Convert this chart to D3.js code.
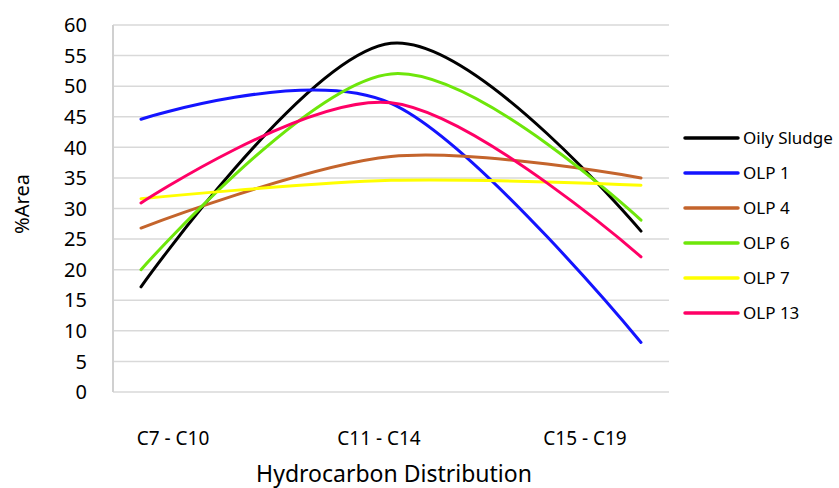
<!DOCTYPE html>
<html lang="en">
<head>
<meta charset="UTF-8">
<title>Hydrocarbon Distribution</title>
<script src="https://d3js.org/d3.v7.min.js"></script>
<style>
    body {
        margin: 0;
        background: #ffffff;
        font-family: "Noto Sans", "Open Sans", sans-serif;
    }
    .grid line { stroke: #d9d9d9; stroke-width: 1.5px; }
    .tick-label { font-size: 20px; fill: #000; }
    .cat-label { font-size: 19px; fill: #000; }
    .legend text { font-size: 17px; fill: #000; }
    .series { fill: none; stroke-width: 3px; stroke-linecap: round; }
</style>
</head>
<body>
<div id="chart"></div>
<script>
    const categories = ["C7 - C10", "C11 - C14", "C15 - C19"];
    const seriesNames = ["Oily Sludge", "OLP 1", "OLP 4", "OLP 6", "OLP 7", "OLP 13"];
    const seriesColors = ["#000000", "#1414ff", "#c4642c", "#6ee60a", "#ffff00", "#ff0066"];
    const oilySludge = [17.2, 57.0, 26.3];
    const olp1 = [44.6, 47.2, 8.1];
    const olp4 = [26.8, 38.5, 35.0];
    const olp6 = [20.0, 52.0, 28.1];
    const olp7 = [31.6, 34.6, 33.8];
    const olp13 = [30.9, 47.3, 22.1];
    const yTicks = [0, 5, 10, 15, 20, 25, 30, 35, 40, 45, 50, 55, 60];

    const allValues = [oilySludge, olp1, olp4, olp6, olp7, olp13];
    const series = seriesNames.map((name, i) => ({ name: name, color: seriesColors[i], values: allValues[i] }));

    const width = 839, height = 488;
    const plotLeft = 113, plotRight = 669, plotTop = 25, plotBottom = 392;

    const svg = d3.select("#chart").append("svg")
        .attr("width", width)
        .attr("height", height);

    const y = d3.scaleLinear().domain([0, 60]).range([plotBottom, plotTop]);
    // data points sit inside the plot, labels are drawn a bit further in
    const x = d3.scalePoint().domain(categories).range([141, 641]);
    const xLabel = d3.scalePoint().domain(categories).range([173, 585]);

    // horizontal gridlines
    svg.append("g")
        .attr("class", "grid")
        .selectAll("line")
        .data(yTicks)
        .enter().append("line")
        .attr("x1", plotLeft)
        .attr("x2", plotRight)
        .attr("y1", d => y(d))
        .attr("y2", d => y(d));

    // left axis line
    svg.append("line")
        .attr("x1", plotLeft).attr("x2", plotLeft)
        .attr("y1", plotTop).attr("y2", plotBottom)
        .attr("stroke", "#d0d0d0")
        .attr("stroke-width", 2);

    svg.append("g")
        .selectAll("text")
        .data(yTicks)
        .enter().append("text")
        .attr("class", "tick-label")
        .attr("x", 87)
        .attr("y", d => y(d))
        .attr("dy", "0.36em")
        .attr("text-anchor", "end")
        .text(d => d);

    svg.append("g")
        .selectAll("text")
        .data(categories)
        .enter().append("text")
        .attr("class", "cat-label")
        .attr("x", d => xLabel(d))
        .attr("y", 445)
        .attr("text-anchor", "middle")
        .text(d => d);

    svg.append("text")
        .attr("x", 394)
        .attr("y", 482)
        .attr("text-anchor", "middle")
        .style("font-size", "23px")
        .text("Hydrocarbon Distribution");

    svg.append("text")
        .attr("transform", "translate(29,204) rotate(-90)")
        .attr("text-anchor", "middle")
        .style("font-size", "20px")
        .text("%Area");

    const line = d3.line()
        .x((d, i) => x(categories[i]))
        .y(d => y(d))
        .curve(d3.curveCardinal.tension(0));

    svg.append("g")
        .selectAll("path")
        .data(series)
        .enter().append("path")
        .attr("class", "series")
        .attr("stroke", d => d.color)
        .attr("d", d => line(d.values));

    const legend = svg.append("g")
        .attr("class", "legend")
        .selectAll("g")
        .data(series)
        .enter().append("g")
        .attr("transform", (d, i) => `translate(685,${138 + i * 35})`);

    legend.append("line")
        .attr("x1", 0).attr("x2", 53)
        .attr("stroke", d => d.color)
        .attr("stroke-width", 3.5)
        .attr("stroke-linecap", "round");

    legend.append("text")
        .attr("x", 58)
        .attr("dy", "0.35em")
        .text(d => d.name);
</script>
</body>
</html>
